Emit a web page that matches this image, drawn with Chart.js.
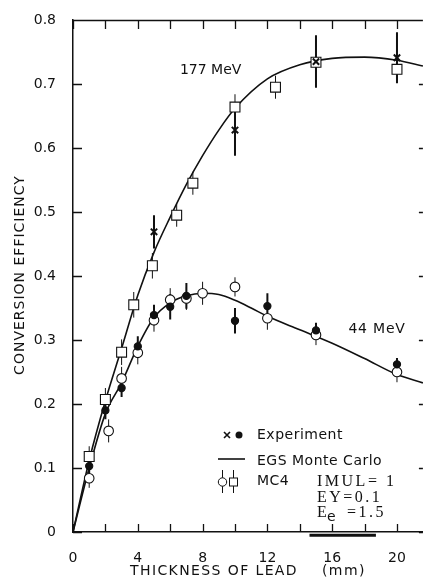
<!DOCTYPE html>
<html lang="en">
<head>
<meta charset="UTF-8">
<title>Conversion efficiency vs thickness of lead</title>
<script src="https://cdn.jsdelivr.net/npm/chart.js"></script>
<style>
  html, body { margin: 0; padding: 0; background: #fff; }
  #chart { display: block; }
</style>
</head>
<body>
<canvas id="chart" width="431" height="579"></canvas>
<script>
// --- values (thickness in mm, efficiency as fraction) ---

// 177 MeV, MC4 (open squares)
const mc177X = [1, 2, 3, 3.75, 4.9, 6.4, 7.4, 10, 12.5, 15, 20];
const mc177Y = [0.118, 0.207, 0.281, 0.355, 0.416, 0.495, 0.545, 0.664, 0.695, 0.734, 0.723];
const mc177Err = [0.016, 0.018, 0.02, 0.02, 0.02, 0.018, 0.018, 0.02, 0.018, 0.015, 0.018];

// 177 MeV, experiment (crosses)
const exp177X = [5, 10, 15, 20];
const exp177Y = [0.469, 0.628, 0.735, 0.741];
const exp177Err = [0.026, 0.04, 0.041, 0.04];

// 44 MeV, experiment (filled dots)
const exp44X = [1, 2, 3, 4, 5, 6, 7, 10, 12, 15, 20];
const exp44Y = [0.103, 0.19, 0.225, 0.29, 0.339, 0.352, 0.369, 0.33, 0.353, 0.315, 0.262];
const exp44Err = [0.012, 0.014, 0.014, 0.016, 0.016, 0.02, 0.02, 0.02, 0.02, 0.012, 0.01];

// 44 MeV, MC4 (open circles)
const mc44X = [1, 2.2, 3, 4, 5, 6, 7, 8, 10, 12, 15, 20];
const mc44Y = [0.084, 0.158, 0.24, 0.28, 0.331, 0.363, 0.365, 0.373, 0.383, 0.334, 0.308, 0.25];
const mc44Err = [0.015, 0.018, 0.018, 0.018, 0.018, 0.018, 0.018, 0.018, 0.015, 0.018, 0.016, 0.016];

// EGS Monte Carlo curves
const egs177X = [0, 1, 2, 3, 4, 5, 6, 7, 8, 9, 10, 12, 14, 16, 18, 20, 21.6];
const egs177Y = [0, 0.112, 0.205, 0.287, 0.37, 0.437, 0.492, 0.543, 0.588, 0.628, 0.662, 0.708, 0.73, 0.74, 0.742, 0.737, 0.728];
const egs44X = [0, 1, 2, 3, 4, 5, 6, 7, 8, 9, 10, 11, 12, 14, 16, 18, 20, 21.6];
const egs44Y = [0, 0.1, 0.185, 0.233, 0.29, 0.335, 0.358, 0.369, 0.373, 0.371, 0.362, 0.35, 0.337, 0.316, 0.295, 0.271, 0.246, 0.233];

// dark smudge under the axis in the scan
const smudgeX = [14.6, 18.7];
const smudgeY = [-0.005, -0.005];

const xTicks = [0, 4, 8, 12, 16, 20];
const ink = '#111';

const pts = (xs, ys) => xs.map((x, i) => ({x: x, y: ys[i]}));

// error bars drawn under the markers
const errorBars = {
  id: 'errorBars',
  beforeDatasetsDraw(chart) {
    const {ctx, scales: {y}} = chart;
    chart.data.datasets.forEach((ds, i) => {
      if (!ds.errs) return;
      const meta = chart.getDatasetMeta(i);
      ctx.save();
      ctx.strokeStyle = ink;
      ctx.lineWidth = ds.errWidth;
      ctx.beginPath();
      meta.data.forEach((p, j) => {
        const v = ds.data[j].y, e = ds.errs[j];
        ctx.moveTo(p.x, y.getPixelForValue(v + e));
        ctx.lineTo(p.x, y.getPixelForValue(v - e));
      });
      ctx.stroke();
      ctx.restore();
    });
  }
};

// top axis line and inward tick marks on all sides
const frame = {
  id: 'frame',
  afterDraw(chart) {
    const {ctx, chartArea: a, scales: {x, y}} = chart;
    ctx.save();
    ctx.strokeStyle = ink;
    ctx.lineWidth = 1.3;
    ctx.beginPath();
    ctx.moveTo(a.left, a.top + 0.5);
    ctx.lineTo(a.right, a.top + 0.5);
    x.ticks.forEach(t => {
      const px = Math.round(x.getPixelForValue(t.value)) + 0.5;
      ctx.moveTo(px, a.bottom); ctx.lineTo(px, a.bottom - 8);
      ctx.moveTo(px, a.top); ctx.lineTo(px, a.top + 9);
    });
    y.ticks.forEach(t => {
      const py = Math.round(y.getPixelForValue(t.value)) + 0.5;
      ctx.moveTo(a.left, py); ctx.lineTo(a.left + 9, py);
      ctx.moveTo(a.right, py); ctx.lineTo(a.right - 4, py);
    });
    ctx.stroke();
    ctx.restore();
  }
};

// axis titles, curve labels and the hand-made legend
const notes = {
  id: 'notes',
  afterDraw(chart) {
    const {ctx, chartArea: a, scales: {x, y}} = chart;
    ctx.save();
    ctx.fillStyle = ink;
    ctx.strokeStyle = ink;
    ctx.textBaseline = 'middle';
    ctx.textAlign = 'left';

    // axis titles
    ctx.font = '14px "DejaVu Sans"';
    ctx.letterSpacing = '1.4px';
    ctx.fillText('THICKNESS OF LEAD', 130, 571);
    ctx.fillText('(mm)', 322, 571);
    ctx.save();
    ctx.translate(20, 275);
    ctx.rotate(-Math.PI / 2);
    ctx.textAlign = 'center';
    ctx.letterSpacing = '1px';
    ctx.fillText('CONVERSION EFFICIENCY', 0, 0);
    ctx.restore();

    // curve labels
    ctx.letterSpacing = '0px';
    ctx.font = '14px "DejaVu Sans"';
    ctx.fillText('177 MeV', x.getPixelForValue(6.6), y.getPixelForValue(0.722));
    ctx.letterSpacing = '0.8px';
    ctx.fillText('44 MeV', x.getPixelForValue(17.0), y.getPixelForValue(0.316));

    // legend
    ctx.letterSpacing = '0.5px';
    ctx.fillText('Experiment', 257, 435);
    ctx.fillText('EGS Monte Carlo', 257, 461);
    ctx.fillText('MC4', 257, 481);

    ctx.lineWidth = 1.6;
    ctx.beginPath();
    ctx.moveTo(224, 432); ctx.lineTo(230, 438);
    ctx.moveTo(230, 432); ctx.lineTo(224, 438);
    ctx.stroke();
    ctx.beginPath();
    ctx.arc(239, 435, 3.5, 0, Math.PI * 2);
    ctx.fill();

    ctx.lineWidth = 1.6;
    ctx.beginPath();
    ctx.moveTo(218, 459); ctx.lineTo(245, 459);
    ctx.stroke();

    ctx.lineWidth = 1;
    ctx.beginPath();
    ctx.moveTo(222.5, 470); ctx.lineTo(222.5, 493);
    ctx.moveTo(233.5, 470); ctx.lineTo(233.5, 493);
    ctx.stroke();
    ctx.fillStyle = '#fff';
    ctx.beginPath();
    ctx.arc(222.5, 482, 4.2, 0, Math.PI * 2);
    ctx.fill(); ctx.stroke();
    ctx.fillRect(229.5, 478, 8, 8);
    ctx.strokeRect(229.5, 478, 8, 8);
    ctx.fillStyle = ink;

    ctx.font = '16px "Liberation Serif"';
    ctx.letterSpacing = '2.5px';
    ctx.fillText('IMUL= 1', 317, 482);
    ctx.fillText('EY=0.1', 317, 498);
    ctx.fillText('E', 317, 513);
    ctx.fillText('=1.5', 347, 513);
    ctx.font = '14px "DejaVu Sans"';
    ctx.letterSpacing = '0px';
    ctx.fillText('e', 327, 517);

    ctx.restore();
  }
};

const markerBase = {
  showLine: false,
  borderColor: ink,
  borderWidth: 1.1,
  backgroundColor: '#fff'
};
const curveBase = {
  showLine: true,
  pointRadius: 0,
  borderColor: ink,
  borderWidth: 1.6,
  cubicInterpolationMode: 'monotone',
  fill: false
};

new Chart(document.getElementById('chart'), {
  type: 'scatter',
  data: {
    datasets: [
      Object.assign({}, markerBase, {
        label: 'MC4 177 MeV', data: pts(mc177X, mc177Y), errs: mc177Err, errWidth: 1,
        pointStyle: 'rect', pointRadius: 7, order: 1
      }),
      Object.assign({}, markerBase, {
        label: 'MC4 44 MeV', data: pts(mc44X, mc44Y), errs: mc44Err, errWidth: 1,
        pointStyle: 'circle', pointRadius: 4.8, order: 1
      }),
      Object.assign({}, markerBase, {
        label: 'Experiment 177 MeV', data: pts(exp177X, exp177Y), errs: exp177Err, errWidth: 2,
        pointStyle: 'crossRot', pointRadius: 4.5, borderWidth: 2, order: 0
      }),
      Object.assign({}, markerBase, {
        label: 'Experiment 44 MeV', data: pts(exp44X, exp44Y), errs: exp44Err, errWidth: 2,
        pointStyle: 'circle', pointRadius: 3.6, backgroundColor: ink, order: 0
      }),
      Object.assign({}, curveBase, {label: 'EGS 177 MeV', data: pts(egs177X, egs177Y), order: 2}),
      Object.assign({}, curveBase, {label: 'EGS 44 MeV', data: pts(egs44X, egs44Y), order: 2}),
      Object.assign({}, curveBase, {
        label: 'smudge', data: pts(smudgeX, smudgeY), borderWidth: 3,
        cubicInterpolationMode: 'default', clip: false, order: 2
      })
    ]
  },
  options: {
    responsive: false,
    animation: false,
    devicePixelRatio: 1,
    layout: {padding: {top: 20, right: 0, left: 0, bottom: 0}},
    plugins: {
      legend: {display: false},
      tooltip: {enabled: false}
    },
    scales: {
      x: {
        type: 'linear',
        min: 0,
        max: 21.6,
        afterFit: s => { s.height = 47; },
        grid: {display: false},
        border: {display: true, color: ink, width: 1.5},
        ticks: {
          stepSize: 2,
          includeBounds: false,
          autoSkip: false,
          maxRotation: 0,
          padding: 10,
          color: ink,
          font: {family: '"DejaVu Sans"', size: 14},
          callback: v => xTicks.includes(v) ? String(v) : ''
        }
      },
      y: {
        min: 0,
        max: 0.8,
        afterFit: s => { s.width = 73; },
        grid: {display: false},
        border: {display: true, color: ink, width: 1.5},
        ticks: {
          stepSize: 0.1,
          padding: 9,
          color: ink,
          font: {family: '"DejaVu Sans"', size: 14},
          callback: v => v === 0 ? '0' : v.toFixed(1)
        }
      }
    }
  },
  plugins: [errorBars, frame, notes]
});
</script>
</body>
</html>
